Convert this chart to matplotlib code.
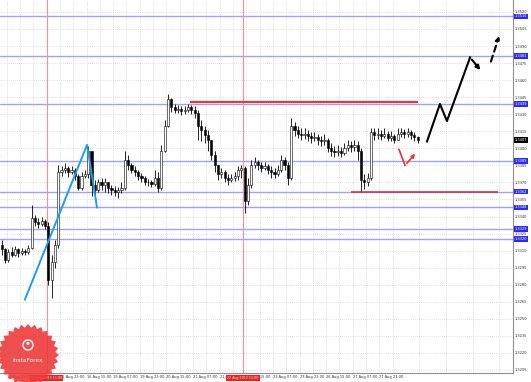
import matplotlib.pyplot as plt
from matplotlib.patches import Polygon, Circle
import numpy as np

# EUR/USD, 2-hour candles starting 14 Aug 11:00
first_open = 1.3315
closes = [1.3311, 1.3302, 1.3309, 1.3306, 1.3311, 1.3308, 1.3310, 1.3309, 1.3312, 1.3339,
          1.3335, 1.3333, 1.3336, 1.3332, 1.3284, 1.3300, 1.3315, 1.3379, 1.3381, 1.3383,
          1.3379, 1.3381, 1.3376, 1.3365, 1.3376, 1.3377, 1.3398, 1.3368, 1.3363, 1.3370,
          1.3368, 1.3370, 1.3365, 1.3363, 1.3362, 1.3363, 1.3365, 1.3390, 1.3385, 1.3381,
          1.3379, 1.3376, 1.3374, 1.3370, 1.3370, 1.3369, 1.3374, 1.3365, 1.3398, 1.3420,
          1.3443, 1.3436, 1.3434, 1.3435, 1.3433, 1.3434, 1.3436, 1.3434, 1.3431, 1.3420,
          1.3416, 1.3412, 1.3407, 1.3394, 1.3385, 1.3377, 1.3379, 1.3374, 1.3372, 1.3374,
          1.3376, 1.3381, 1.3383, 1.3354, 1.3368, 1.3385, 1.3388, 1.3385, 1.3383, 1.3384,
          1.3381, 1.3379, 1.3377, 1.3381, 1.3390, 1.3385, 1.3374, 1.3420, 1.3416, 1.3413,
          1.3412, 1.3413, 1.3411, 1.3409, 1.3410, 1.3407, 1.3406, 1.3407, 1.3400, 1.3398,
          1.3397, 1.3398, 1.3396, 1.3400, 1.3403, 1.3401, 1.3403, 1.3398, 1.3372, 1.3370,
          1.3374, 1.3414, 1.3412, 1.3413, 1.3411, 1.3413, 1.3409, 1.3411, 1.3407, 1.3413,
          1.3414, 1.3413, 1.3414, 1.3412, 1.3410, 1.3407]
highs = [1.3319, 1.3312, 1.3311, 1.3313, 1.3314, 1.3312, 1.3312, 1.3311, 1.3315, 1.3350,
         1.3341, 1.3339, 1.3340, 1.3338, 1.3335, 1.3306, 1.3319, 1.3385, 1.3384, 1.3387,
         1.3384, 1.3384, 1.3383, 1.3377, 1.3379, 1.3381, 1.3402, 1.3398, 1.3372, 1.3373,
         1.3374, 1.3374, 1.3370, 1.3368, 1.3367, 1.3366, 1.3370, 1.3398, 1.3394, 1.3387,
         1.3384, 1.3381, 1.3378, 1.3376, 1.3373, 1.3372, 1.3381, 1.3379, 1.3403, 1.3425,
         1.3448, 1.3444, 1.3439, 1.3438, 1.3437, 1.3437, 1.3439, 1.3438, 1.3437, 1.3434,
         1.3425, 1.3420, 1.3416, 1.3407, 1.3398, 1.3385, 1.3383, 1.3381, 1.3377, 1.3377,
         1.3379, 1.3384, 1.3385, 1.3384, 1.3374, 1.3390, 1.3392, 1.3390, 1.3388, 1.3388,
         1.3386, 1.3384, 1.3383, 1.3385, 1.3394, 1.3392, 1.3388, 1.3427, 1.3423, 1.3420,
         1.3418, 1.3418, 1.3416, 1.3414, 1.3414, 1.3413, 1.3411, 1.3413, 1.3409, 1.3405,
         1.3402, 1.3403, 1.3401, 1.3405, 1.3407, 1.3406, 1.3407, 1.3406, 1.3400, 1.3377,
         1.3378, 1.3418, 1.3418, 1.3418, 1.3416, 1.3418, 1.3415, 1.3415, 1.3413, 1.3418,
         1.3418, 1.3417, 1.3418, 1.3416, 1.3414, 1.3411]
lows = [1.3306, 1.3299, 1.3300, 1.3304, 1.3305, 1.3304, 1.3306, 1.3306, 1.3307, 1.3311,
        1.3332, 1.3330, 1.3332, 1.3329, 1.3280, 1.3268, 1.3295, 1.3312, 1.3376, 1.3378,
        1.3375, 1.3377, 1.3372, 1.3363, 1.3363, 1.3374, 1.3374, 1.3358, 1.3357, 1.3362,
        1.3363, 1.3362, 1.3361, 1.3359, 1.3358, 1.3356, 1.3361, 1.3363, 1.3381, 1.3378,
        1.3376, 1.3372, 1.3370, 1.3368, 1.3367, 1.3366, 1.3367, 1.3362, 1.3363, 1.3397,
        1.3419, 1.3432, 1.3431, 1.3431, 1.3429, 1.3430, 1.3432, 1.3430, 1.3427, 1.3407,
        1.3406, 1.3405, 1.3398, 1.3390, 1.3379, 1.3372, 1.3374, 1.3370, 1.3368, 1.3370,
        1.3371, 1.3372, 1.3374, 1.3343, 1.3350, 1.3365, 1.3383, 1.3381, 1.3379, 1.3381,
        1.3377, 1.3374, 1.3374, 1.3376, 1.3379, 1.3381, 1.3368, 1.3372, 1.3411, 1.3409,
        1.3407, 1.3408, 1.3406, 1.3405, 1.3406, 1.3403, 1.3402, 1.3403, 1.3397, 1.3393,
        1.3392, 1.3393, 1.3392, 1.3394, 1.3398, 1.3397, 1.3398, 1.3390, 1.3362, 1.3364,
        1.3367, 1.3372, 1.3407, 1.3408, 1.3407, 1.3409, 1.3406, 1.3406, 1.3405, 1.3407,
        1.3410, 1.3409, 1.3410, 1.3408, 1.3406, 1.3405]

# x axis labels every 16 hours (hours from 14 Aug 11:00); 15 Aug 07:00 sits under the red box
time_ticks = [4, 36, 52, 68, 84, 100, 116, 132, 148, 164, 180, 196, 212, 228]
time_labels = ["14 Aug 15:00", "15 Aug 23:00", "16 Aug 15:00", "19 Aug 07:00",
               "19 Aug 23:00", "20 Aug 15:00", "21 Aug 07:00", "21 Aug 23:00", "22 Aug 15:00",
               "23 Aug 07:00", "23 Aug 23:00", "26 Aug 15:00", "27 Aug 07:00", "27 Aug 23:00"]
separators = [28, 146]
separator_labels = ["15 Aug 2013 15:00", "22 Aug 2013 13:00"]

# support / resistance levels
blue_levels = [1.3516, 1.3481, 1.3439, 1.3389, 1.3362, 1.3348, 1.3329, 1.3320]
red_upper = (114, 251, 1.3441)
red_lower = (211, 299, 1.3362)

# drawn analysis lines (hours, price)
zigzag_t = [15.0, 52.3, 58.3]
zigzag_p = [1.3267, 1.3403, 1.3348]
red_arrow_t = [239.8, 243.4, 250.6]
red_arrow_p = [1.3399, 1.3385, 1.3397]
black_path_t = [256.6, 264.4, 268.6, 282.5, 289.7]
black_path_p = [1.3406, 1.3439, 1.3424, 1.3480, 1.3467]
dash_t = [294.5, 300.5]
dash_p = [1.3474, 1.3501]

fig = plt.figure(figsize=(5.31, 3.82), dpi=100)
fig.patch.set_facecolor("white")
ax = fig.add_axes([0, 9 / 382, 513 / 531, 373 / 382])
ax.set_xlim(0, 308.3)
ax.set_ylim(1.32023, 1.35305)

yticks = np.round(np.arange(1.3205, 1.3521, 0.0015), 4)
ax.set_yticks(yticks, ["%.4f" % v for v in yticks])
ax.yaxis.tick_right()
ax.tick_params(axis="y", length=0, pad=1.5, labelsize=2.6, labelcolor="#333333")
ax.set_xticks(time_ticks, time_labels)
ax.set_xticks([4 + 8 * k for k in range(1, 38, 2)] + [20], minor=True)
ax.tick_params(axis="x", which="both", length=0, pad=1.5, labelsize=2.6, labelcolor="#333333")
for lab in ax.get_xticklabels():
    lab.set_ha("left")

ax.grid(True, which="both", color="#c4c4c4", linestyle=(0, (1, 2)), linewidth=0.5)
ax.set_axisbelow(True)
for s in ["left", "top"]:
    ax.spines[s].set_visible(False)
for s in ["right", "bottom"]:
    ax.spines[s].set_color("#909090")
    ax.spines[s].set_linewidth(0.8)

# candles
opens = [first_open] + closes[:-1]
t = np.arange(len(closes)) * 2 + 1
o = np.array(opens)
c = np.array(closes)
ax.vlines(t, lows, highs, color="black", linewidth=0.6, zorder=3)
body = np.maximum(np.abs(c - o), 0.00004)
ax.bar(t, body, bottom=np.minimum(o, c), width=1.3,
       color=np.where(c >= o, "white", "black"), edgecolor="black", linewidth=0.4, zorder=4)

for lv in blue_levels:
    ax.axhline(lv, color="#a0a0ff", linewidth=1.0, zorder=2)
for x in separators:
    ax.axvline(x, color="#ff9090", linewidth=0.8, zorder=1)
ax.hlines(red_upper[2], red_upper[0], red_upper[1], color="#e03a3a", linewidth=1.6, zorder=5)
ax.hlines(red_lower[2], red_lower[0], red_lower[1], color="#d42a2a", linewidth=1.1, zorder=5)

ax.plot(zigzag_t, zigzag_p, color="#1ea0e6", linewidth=1.4, zorder=6)
ax.plot(red_arrow_t[:-1], red_arrow_p[:-1], color="#f03030", linewidth=1.2, zorder=6)
ax.annotate("", xy=(red_arrow_t[2], red_arrow_p[2]), xytext=(red_arrow_t[1], red_arrow_p[1]),
            arrowprops=dict(arrowstyle="-|>", color="#f03030", lw=1.2, mutation_scale=5), zorder=6)
ax.plot(black_path_t[:-1], black_path_p[:-1], color="black", linewidth=1.5, zorder=6)
ax.annotate("", xy=(black_path_t[-1], black_path_p[-1]), xytext=(black_path_t[-2], black_path_p[-2]),
            arrowprops=dict(arrowstyle="-|>", color="black", lw=1.5, mutation_scale=6), zorder=6)
ax.annotate("", xy=(dash_t[1], dash_p[1]), xytext=(dash_t[0], dash_p[0]),
            arrowprops=dict(arrowstyle="-|>", color="black", lw=1.5, linestyle=(0, (3, 2)),
                            mutation_scale=6), zorder=6)

# price boxes on the right scale
for lv in blue_levels:
    ax.text(1.003, lv, "%.4f" % lv, transform=ax.get_yaxis_transform(), fontsize=2.6,
            color="white", va="center", ha="left", clip_on=False, zorder=10,
            bbox=dict(boxstyle="square,pad=0.25", fc="#2a2aff", ec="none"))
ax.text(1.003, closes[-1], "%.4f" % closes[-1], transform=ax.get_yaxis_transform(), fontsize=2.6,
        color="white", va="center", ha="left", clip_on=False, zorder=10,
        bbox=dict(boxstyle="square,pad=0.25", fc="black", ec="none"))

# separator time boxes
for x, lab in zip(separators, separator_labels):
    ax.text(x, -0.013, lab, transform=ax.get_xaxis_transform(), fontsize=2.3, color="white",
            ha="center", va="center", clip_on=False, zorder=10,
            bbox=dict(boxstyle="square,pad=0.3", fc="#ff1a1a", ec="none"))

# InstaForex badge
lax = fig.add_axes([0, 0, 1, 1], facecolor="none")
lax.set_xlim(0, 531)
lax.set_ylim(382, 0)
lax.axis("off")
ang = np.linspace(0, 2 * np.pi, 57)[:-1]
rad = np.where(np.arange(56) % 2 == 0, 31, 27.5)
lax.add_patch(Polygon(np.c_[28 + rad * np.cos(ang), 355 + rad * np.sin(ang)],
                      closed=True, fc="#ee3b3b", ec="none", alpha=0.9))
lax.add_patch(Circle((28, 345), 5, fc="none", ec="white", lw=1.0))
lax.add_patch(Circle((28, 343.5), 1.6, fc="white", ec="none"))
lax.text(28, 361, "InstaForex", color="white", fontsize=4.2, ha="center", va="center")

fig.savefig("out.png", dpi=100)
